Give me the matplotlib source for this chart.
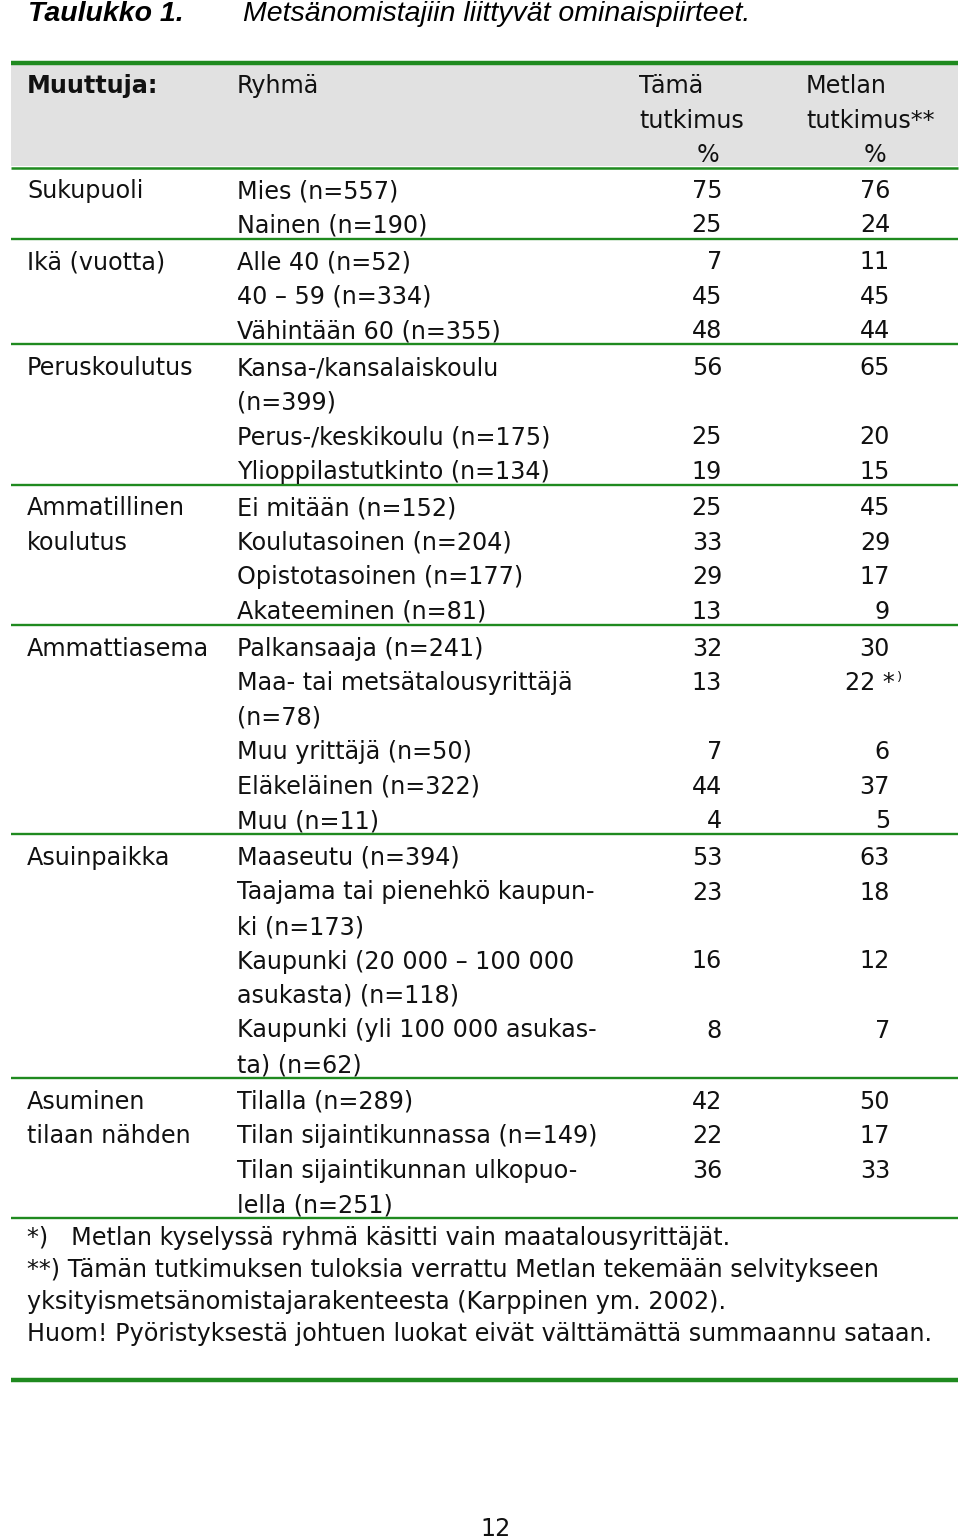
"""Taulukko 1: Metsänomistajiin liittyvät ominaispiirteet."""

import matplotlib
matplotlib.use("Agg")
import matplotlib.pyplot as plt

# --- data -----------------------------------------------------------------
variables = [
    "Sukupuoli",
    "Ikä (vuotta)",
    "Peruskoulutus",
    "Ammatillinen\nkoulutus",
    "Ammattiasema",
    "Asuinpaikka",
    "Asuminen\ntilaan nähden",
]
groups = [
    ["Mies (n=557)", "Nainen (n=190)"],
    ["Alle 40 (n=52)", "40 – 59 (n=334)", "Vähintään 60 (n=355)"],
    ["Kansa-/kansalaiskoulu\n(n=399)", "Perus-/keskikoulu (n=175)", "Ylioppilastutkinto (n=134)"],
    ["Ei mitään (n=152)", "Koulutasoinen (n=204)", "Opistotasoinen (n=177)", "Akateeminen (n=81)"],
    ["Palkansaaja (n=241)", "Maa- tai metsätalousyrittäjä\n(n=78)", "Muu yrittäjä (n=50)",
     "Eläkeläinen (n=322)", "Muu (n=11)"],
    ["Maaseutu (n=394)", "Taajama tai pienehkö kaupun-\nki (n=173)",
     "Kaupunki (20 000 – 100 000\nasukasta) (n=118)", "Kaupunki (yli 100 000 asukas-\nta) (n=62)"],
    ["Tilalla (n=289)", "Tilan sijaintikunnassa (n=149)", "Tilan sijaintikunnan ulkopuo-\nlella (n=251)"],
]
this_study = [
    [75, 25],
    [7, 45, 48],
    [56, 25, 19],
    [25, 33, 29, 13],
    [32, 13, 7, 44, 4],
    [53, 23, 16, 8],
    [42, 22, 36],
]
metla_study = [
    [76, 24],
    [11, 45, 44],
    [65, 20, 15],
    [45, 29, 17, 9],
    [30, 22, 6, 37, 5],
    [63, 18, 12, 7],
    [50, 17, 33],
]
# value that carries the footnote mark *)
marked = (4, 1)

header = ["Muuttuja:", "Ryhmä", "Tämä\ntutkimus\n%", "Metlan\ntutkimus**\n%"]
footnotes = [
    "*)   Metlan kyselyssä ryhmä käsitti vain maatalousyrittäjät.",
    "**) Tämän tutkimuksen tuloksia verrattu Metlan tekemään selvitykseen",
    "yksityismetsänomistajarakenteesta (Karppinen ym. 2002).",
    "Huom! Pyöristyksestä johtuen luokat eivät välttämättä summaannu sataan.",
]
title_bold = "Taulukko 1."
title_text = "Metsänomistajiin liittyvät ominaispiirteet."
page_no = "12"

# --- layout -----------------------------------------------------------------
GREEN = "#1f8a1f"
GRAY = "#e1e1e1"
FS = 17.2
X_VAR, X_GRP, X_T, X_M = 27, 237, 722, 890
PITCH = 34.5
GAP = 2.3
Y0 = 198

fig = plt.figure(figsize=(9.6, 15.4), dpi=100)
ax = fig.add_axes([0, 0, 1, 1])
ax.set_xlim(0, 960)
ax.set_ylim(1540, 0)
ax.axis("off")

txt = dict(fontsize=FS, color="#111111", family="DejaVu Sans")

# title
ax.text(28, 21, title_bold, fontsize=20.5, fontweight="bold", style="italic",
        family="Liberation Sans", va="baseline")
ax.text(243, 21, title_text, fontsize=20.5, style="italic",
        family="Liberation Sans", va="baseline")

# header
ax.fill_between([11, 958], 64, 166, color=GRAY, lw=0)
ax.plot([11, 958], [62.5, 62.5], color=GREEN, lw=3.2, solid_capstyle="butt")
hb = [93, 127.5, 162]
ax.text(X_VAR, hb[0], header[0], fontweight="bold", va="baseline", **txt)
ax.text(X_GRP, hb[0], header[1], va="baseline", **txt)
for col, xl, xc in [(header[2], 639, 708), (header[3], 806, 875)]:
    parts = col.split("\n")
    ax.text(xl, hb[0], parts[0], va="baseline", **txt)
    ax.text(xl, hb[1], parts[1], va="baseline", **txt)
    ax.text(xc, hb[2], parts[2], va="baseline", ha="center", **txt)
ax.plot([11, 958], [168, 168], color=GREEN, lw=1.8, solid_capstyle="butt")

# body
line = 0
for b, var in enumerate(variables):
    base = lambda i: Y0 + PITCH * i + GAP * b
    for k, part in enumerate(var.split("\n")):
        ax.text(X_VAR, base(line + k), part, va="baseline", **txt)
    for g, grp in enumerate(groups[b]):
        y = base(line)
        ax.text(X_T, y, str(this_study[b][g]), ha="right", va="baseline", **txt)
        if (b, g) == marked:
            ax.text(895, y, f"{metla_study[b][g]} *", ha="right", va="baseline", **txt)
            ax.text(897, y - 9, ")", fontsize=9.5, color="#111111", va="baseline")
        else:
            ax.text(X_M, y, str(metla_study[b][g]), ha="right", va="baseline", **txt)
        for part in grp.split("\n"):
            ax.text(X_GRP, base(line), part, va="baseline", **txt)
            line += 1
    ysep = base(line - 1) + 6
    ax.plot([11, 958], [ysep, ysep], color=GREEN, lw=1.7, solid_capstyle="butt")

# footnotes
for k, note in enumerate(footnotes):
    ax.text(X_VAR, 1245 + 32 * k, note, va="baseline", **txt)

ax.plot([11, 958], [1380, 1380], color=GREEN, lw=3.2, solid_capstyle="butt")
ax.text(496, 1536, page_no, ha="center", va="baseline", **txt)

fig.savefig("out.png", dpi=100)
